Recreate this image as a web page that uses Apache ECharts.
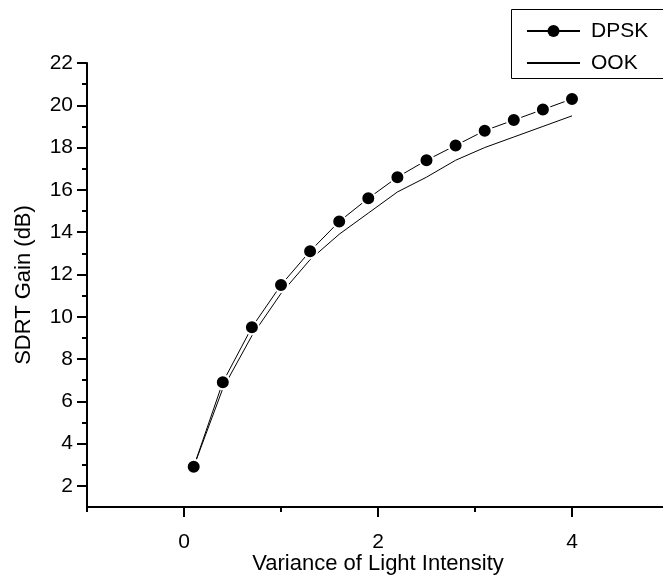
<!DOCTYPE html>
<html>
<head>
<meta charset="utf-8">
<script src="https://cdn.jsdelivr.net/npm/echarts@6/dist/echarts.min.js"></script>
<style>html,body{margin:0;padding:0;background:#fff;}#c{width:663px;height:575px;}</style>
</head>
<body>
<div id="c"></div>
<script>
const xValues = [0.1, 0.4, 0.7, 1.0, 1.3, 1.6, 1.9, 2.2, 2.5, 2.8, 3.1, 3.4, 3.7, 4.0];
const dpsk = [2.9, 6.9, 9.5, 11.5, 13.1, 14.5, 15.6, 16.6, 17.4, 18.1, 18.8, 19.3, 19.8, 20.3];
const ook  = [2.9, 6.6, 9.1, 11.1, 12.7, 13.9, 14.9, 15.9, 16.6, 17.4, 18.0, 18.5, 19.0, 19.5];
const xTickLabels = [0, 2, 4];
const xMinorTicks = [-1, 1, 3, 5];
const yTickLabels = [2, 4, 6, 8, 10, 12, 14, 16, 18, 20, 22];
const yMinorTicks = [3, 5, 7, 9, 11, 13, 15, 17, 19, 21];
const seriesNames = ['DPSK', 'OOK'];

const FONT = "'Liberation Sans', Arial, sans-serif";
const chart = echarts.init(document.getElementById('c'), null, {renderer: 'canvas'});
const pair = (ys) => xValues.map((x, i) => [x, ys[i]]);

chart.setOption({
  animation: false,
  backgroundColor: '#fff',
  textStyle: {fontFamily: FONT},
  grid: {left: 87, top: 63, right: -6, bottom: 68, containLabel: false, outerBoundsMode: 'none'},
  graphic: [{
    type: 'polyline',
    shape: {points: [[720, 9.5], [511.5, 9.5], [511.5, 78.5], [720, 78.5]]},
    style: {fill: null, stroke: '#000', lineWidth: 1},
    silent: true
  }],
  legend: {
    orient: 'vertical',
    left: 511, top: 9,
    padding: [10, 20, 3, 15],
    itemGap: 8,
    itemWidth: 53, itemHeight: 15,
    textStyle: {fontSize: 21, color: '#000', fontFamily: FONT, lineHeight: 24, padding: [0, 0, 0, 6]},
    data: [
      {name: seriesNames[0], itemStyle: {borderWidth: 0, color: '#000'}},
      {name: seriesNames[1], itemStyle: {opacity: 0, color: 'rgba(0,0,0,0)', borderWidth: 0}}
    ]
  },
  xAxis: [{
    type: 'value', min: -1, max: 5, position: 'bottom',
    axisLine: {onZero: false, lineStyle: {color: '#000', width: 2}},
    axisTick: {customValues: xTickLabels, length: 10, lineStyle: {color: '#000', width: 2}},
    axisLabel: {customValues: xTickLabels, fontSize: 21, color: '#000', margin: 25, fontFamily: FONT},
    splitLine: {show: false},
    name: 'Variance of Light Intensity', nameLocation: 'middle', nameGap: 46, nameMoveOverlap: false,
    nameTextStyle: {fontSize: 22, color: '#000', fontFamily: FONT}
  }, {
    type: 'value', min: -1, max: 5, position: 'bottom', offset: 0,
    axisLine: {show: false, onZero: false},
    axisTick: {customValues: xMinorTicks, length: 5, lineStyle: {color: '#000', width: 2}},
    axisLabel: {show: false},
    splitLine: {show: false}
  }],
  yAxis: [{
    type: 'value', min: 1, max: 22, position: 'left',
    axisLine: {onZero: false, lineStyle: {color: '#000', width: 2}},
    axisTick: {customValues: yTickLabels, length: 10, lineStyle: {color: '#000', width: 2}},
    axisLabel: {customValues: yTickLabels, fontSize: 21, color: '#000', margin: 14, fontFamily: FONT},
    splitLine: {show: false},
    name: 'SDRT Gain (dB)', nameLocation: 'middle', nameGap: 52, nameMoveOverlap: false,
    nameTextStyle: {fontSize: 22, color: '#000', fontFamily: FONT}
  }, {
    type: 'value', min: 1, max: 22, position: 'left', offset: 0,
    axisLine: {show: false, onZero: false},
    axisTick: {customValues: yMinorTicks, length: 5, lineStyle: {color: '#000', width: 2}},
    axisLabel: {show: false},
    splitLine: {show: false}
  }],
  series: [{
    name: seriesNames[1], type: 'line', data: pair(ook),
    xAxisIndex: 0, yAxisIndex: 0,
    symbol: 'none',
    lineStyle: {color: '#000', width: 1},
    itemStyle: {color: '#000'},
    z: 2
  }, {
    name: seriesNames[0], type: 'line', data: pair(dpsk),
    xAxisIndex: 0, yAxisIndex: 0,
    symbol: 'circle', symbolSize: 14, showSymbol: true,
    lineStyle: {color: '#000', width: 1},
    itemStyle: {color: '#000', borderColor: '#fff', borderWidth: 2},
    z: 3
  }]
});
</script>
</body>
</html>
